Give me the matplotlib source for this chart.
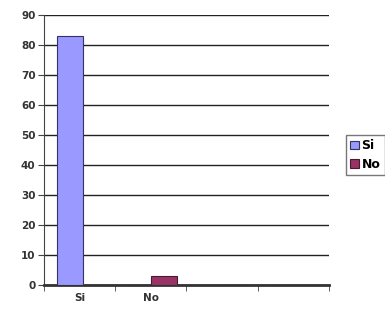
import matplotlib
matplotlib.use("Agg")
import matplotlib.pyplot as plt
import numpy as np

categories = ["Si", "No", "", ""]
series_names = ["Si", "No"]
si_values = [83, 0, 0, 0]
no_values = [0, 3, 0, 0]
yticks = [0, 10, 20, 30, 40, 50, 60, 70, 80, 90]

fig = plt.figure(figsize=(3.85, 3.11), dpi=100)
ax = fig.add_axes([0.114, 0.084, 0.74, 0.868])

x = np.arange(len(categories))
w = 0.36
ax.bar(x - 0.13, si_values, w, color="#9999FF", edgecolor="#333366", linewidth=0.8,
       label=series_names[0], zorder=3)
ax.bar(x + 0.19, no_values, w, color="#993366", edgecolor="#4a1a30", linewidth=0.8,
       label=series_names[1], zorder=3)

ax.set_xlim(-0.5, len(categories) - 0.5)
ax.set_ylim(0, 90)
ax.set_yticks(yticks)
ax.set_yticklabels([str(v) for v in yticks], fontsize=7.5, fontweight="bold", color="#333333")
ax.yaxis.grid(True, color="#222222", linewidth=1.0, zorder=0)
ax.set_xticks(x)
ax.set_xticklabels(categories, fontsize=7.5, fontweight="bold", color="#333333")
ax.set_xticks(np.arange(len(categories) + 1) - 0.5, minor=True)
ax.tick_params(axis="x", which="major", length=0, pad=6)
ax.tick_params(axis="x", which="minor", length=4, color="#444444")
ax.tick_params(axis="y", length=4, color="#444444", pad=2)
for s in ["top", "right"]:
    ax.spines[s].set_visible(False)
ax.spines["left"].set_color("#444444")
ax.spines["bottom"].set_color("#333333")
ax.spines["bottom"].set_linewidth(2)

leg = fig.legend(loc="upper left", bbox_to_anchor=(346 / 385, 1 - 135 / 311),
                 prop={"weight": "bold", "size": 9}, frameon=True, fancybox=False,
                 edgecolor="#555555", handlelength=0.7, handleheight=0.7, handletextpad=0.2,
                 borderpad=0.35, labelspacing=0.45, borderaxespad=0)
leg.get_frame().set_linewidth(1.0)

fig.savefig("out.png", dpi=100)
